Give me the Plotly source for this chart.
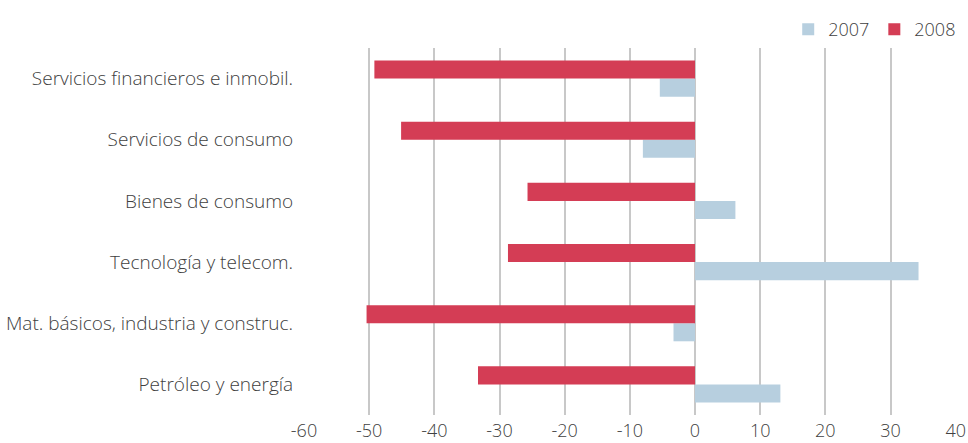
import plotly.graph_objects as go

categories = [
    "Petróleo y energía",
    "Mat. básicos, industria y construc.",
    "Tecnología y telecom.",
    "Bienes de consumo",
    "Servicios de consumo",
    "Servicios financieros e inmobil.",
]
values_2007 = [13.1, -3.3, 34.3, 6.2, -8.0, -5.4]
values_2008 = [-33.3, -50.4, -28.7, -25.7, -45.1, -49.2]
tick_vals = [-60, -50, -40, -30, -20, -10, 0, 10, 20, 30, 40]
tick_text = ["-60", "-50", "-40", "-30", "-20", "-10", "0", "10", "20", "30", "40"]

FONT = dict(family="Open Sans", size=18, color="#404040", weight=300)

fig = go.Figure()
fig.add_trace(go.Bar(y=categories, x=values_2007, name="2007", orientation="h",
                     marker=dict(color="#b7cfdf", line=dict(width=0))))
fig.add_trace(go.Bar(y=categories, x=values_2008, name="2008", orientation="h",
                     marker=dict(color="#d43d55", line=dict(width=0))))

fig.update_layout(
    width=968, height=443,
    margin=dict(l=304, r=12, t=48, b=28, autoexpand=False),
    barmode="group", bargap=0.41, bargroupgap=0,
    plot_bgcolor="white", paper_bgcolor="white",
    font=FONT,
    legend=dict(orientation="h", x=1.008, xanchor="right", y=1.0, yanchor="bottom",
                font=FONT, itemwidth=30, traceorder="normal"),
    xaxis=dict(range=[-60, 40.05], tickvals=tick_vals, ticktext=tick_text,
               showgrid=True, gridcolor="#c8c8c8", gridwidth=1.5, zeroline=False,
               ticks="", showline=False, fixedrange=True,
               ticklabeloverflow="allow", ticklabelstandoff=3),
    yaxis=dict(showgrid=False, ticks="", showline=False, ticksuffix="  ",
               fixedrange=True, tickfont=dict(size=19)),
)

fig.write_html("out.html")
